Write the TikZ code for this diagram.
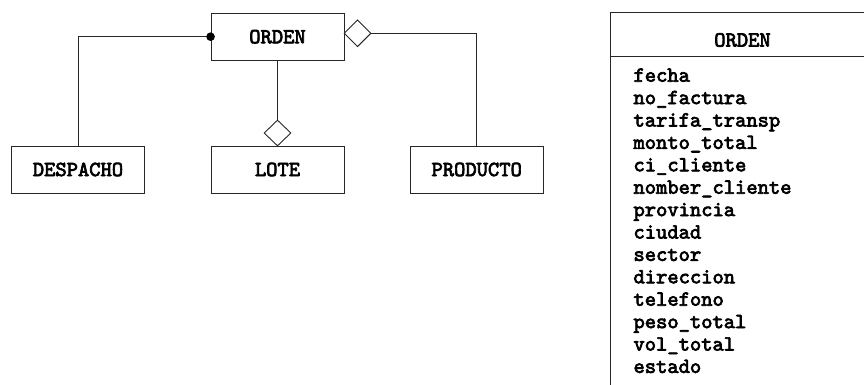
\documentclass[tikz,border=0pt]{standalone}
\usepackage{fontspec}
\usetikzlibrary{shapes.geometric}
\newfontfamily\lmmonofb[FakeBold=3.2]{lmmono10-regular.otf}
\newcommand{\monob}{\fontsize{21.5}{22}\lmmonofb}
\begin{document}
\begin{tikzpicture}[x=1pt,y=-1pt,
  ln/.style={draw=black!85,line width=0.9pt},
  cls/.style={ln,rectangle,minimum width=133pt,minimum height=47pt,inner sep=0pt,font=\monob},
  agg/.style={ln,diamond,fill=white,minimum width=27pt,minimum height=27pt,inner sep=0pt},
  attr/.style={anchor=base west,inner sep=0pt,font=\monob},
]
\clip (0,0) rectangle (864,385);
\useasboundingbox (0,0) rectangle (864,385);
% class boxes
\node[cls] (orden) at (277.5,36.7) {ORDEN};
\node[cls] (despacho) at (78,169.5) {DESPACHO};
\node[cls] (lote) at (277.5,169.5) {LOTE};
\node[cls] (producto) at (476.7,169.5) {PRODUCTO};
% aggregation diamonds
\node[agg] (d1) at (357.5,33.3) {};
\node[agg,minimum height=26pt] (d2) at (277.5,133) {};
% connectors
\draw[ln] (orden.west) -| (despacho.north);
\fill[black] (orden.west) circle (4.3pt);
\draw[ln] (orden.south) -- (d2.north);
\draw[ln] (d1.east) -| (producto.north);
% table
\draw[ln] (880,12.7) -- (610,12.7) -- (610,400);
\draw[ln] (610,56) -- (880,56);
\node[attr,anchor=center] (thead) at (742.5,40) {ORDEN};
\foreach \t [count=\i from 0] in {fecha,no\_factura,tarifa\_transp,monto\_total,ci\_cliente,nomber\_cliente,provincia,ciudad,sector,direccion,telefono,peso\_total,vol\_total,estado}
  \node[attr] (a\i) at (633.3,81.7+\i*22.4) {\t};
\end{tikzpicture}
\end{document}
